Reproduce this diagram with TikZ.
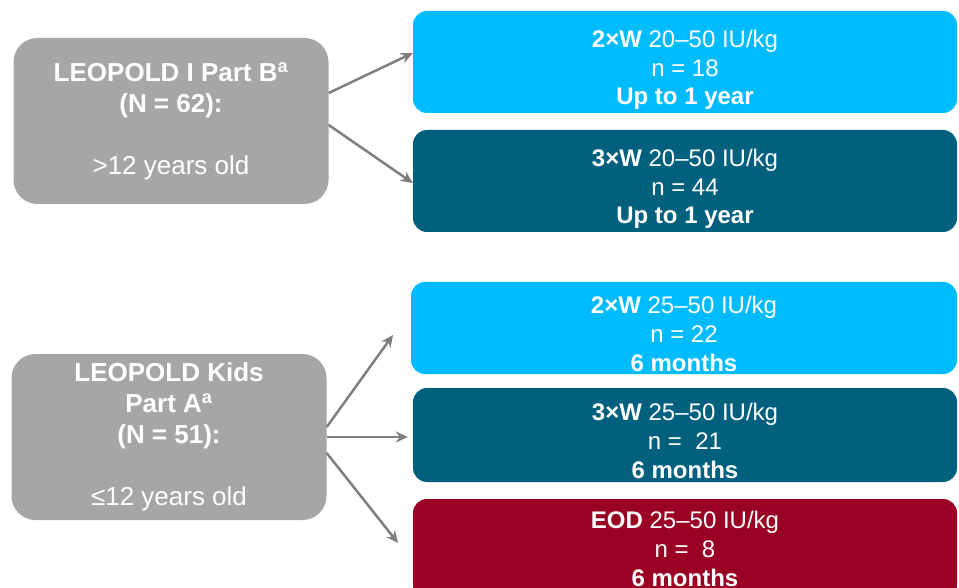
\documentclass[tikz,border=0pt]{standalone}
\usepackage{fontspec}
\setmainfont{Liberation Sans}
\usetikzlibrary{arrows.meta}
\definecolor{studygray}{HTML}{A6A6A6}
\definecolor{armcyan}{HTML}{00BCFF}
\definecolor{armteal}{HTML}{00607D}
\definecolor{armred}{HTML}{990024}
\definecolor{linkgray}{HTML}{7F7F7F}

\begin{document}
\begin{tikzpicture}[x=1pt,y=-1pt,
    study/.style={fill=studygray,rounded corners=24pt,text=white,align=center,
      minimum width=315pt,minimum height=166pt,inner sep=0pt,
      font=\fontsize{26}{31}\selectfont},
    arm/.style={rounded corners=14pt,text=white,align=center,
      minimum width=544pt,inner sep=0pt,text height=86pt,text depth=0pt,
      font=\fontsize{24}{28.7}\selectfont},
    link/.style={draw=linkgray,line width=2.5pt,-{Stealth[length=12pt,width=11pt]}}
]

\useasboundingbox (0,0) rectangle (959,588);
\clip (0,0) rectangle (959,588);

% the two studies
\node[study] (partB) at (171,121)
  {\textbf{LEOPOLD I Part B\textsuperscript{a}}\\\textbf{(N = 62):}\\[31pt]>12 years old};
\node[study] (kids) at (169,437)
  {\textbf{LEOPOLD Kids}\\\textbf{Part A\textsuperscript{a}}\\\textbf{(N = 51):}\\[31pt]≤12 years old};

% treatment arms
\node[arm,fill=armcyan,minimum height=102pt] (b2w) at (685,62)
  {\textbf{2×W} 20–50 IU/kg\\n = 18\\\textbf{Up to 1 year}};
\node[arm,fill=armteal,minimum height=102pt] (b3w) at (685,181)
  {\textbf{3×W} 20–50 IU/kg\\n = 44\\\textbf{Up to 1 year}};
\node[arm,fill=armcyan,minimum height=92pt,minimum width=546pt] (k2w) at (684,328)
  {\textbf{2×W} 25–50 IU/kg\\n = 22\\\textbf{6 months}};
\node[arm,fill=armteal,minimum height=94pt] (k3w) at (685,435)
  {\textbf{3×W} 25–50 IU/kg\\n = \ 21\\\textbf{6 months}};
\node[arm,fill=armred,minimum height=100pt,text height=74pt] (keod) at (685,549)
  {\textbf{EOD} 25–50 IU/kg\\n = \ 8\\\textbf{6 months}};

\coordinate (upend) at (393,335);
\coordinate (downend) at (398,543);

\draw[link] ([yshift=28pt]partB.east) -- ([yshift=9pt]b2w.west);
\draw[link] ([yshift=-4pt]partB.east) -- ([yshift=-2pt]b3w.west);

\draw[link] ([yshift=10pt]kids.east) -- (upend);
\draw[link] ([yshift=0pt]kids.east) -- ([xshift=-5pt,yshift=-2pt]k3w.west);
\draw[link] ([yshift=-16pt]kids.east) -- (downend);

\end{tikzpicture}
\end{document}
